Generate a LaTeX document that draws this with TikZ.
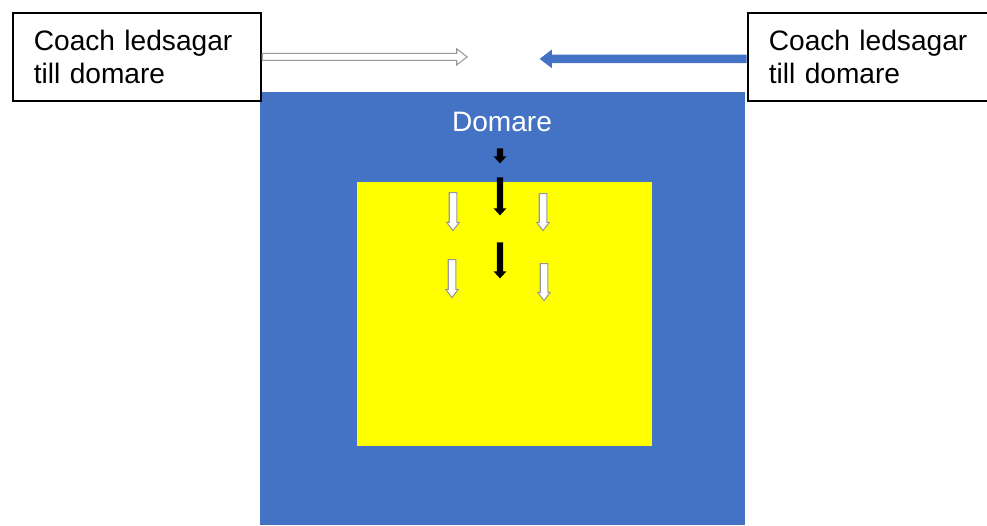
\documentclass[tikz,border=0pt]{standalone}
\usepackage{fontspec}
\setmainfont{Liberation Sans}
\usetikzlibrary{shapes.arrows}
\definecolor{fieldblue}{HTML}{4472C4}
\definecolor{matyellow}{HTML}{FFFF00}
\begin{document}
\begin{tikzpicture}[x=0.02cm,y=-0.02cm]
       \tikzstyle{coachbox}=[draw, fill=white, line width=1pt, minimum width=4.96cm, minimum height=1.76cm, text width=4.12cm, inner xsep=0.42cm, align=left, font=\fontsize{16}{19}\selectfont, anchor=north west]
       \tikzstyle{blockarrow}=[single arrow, single arrow head indent=0pt, single arrow tip angle=75, anchor=tail]
       \tikzstyle{hollowarrow}=[blockarrow, draw=gray!80, fill=white, line width=0.6pt]
       \tikzstyle{down}=[shape border rotate=270]
       \tikzstyle{walkarrow}=[hollowarrow, down, inner sep=0.065cm, single arrow head extend=0.05cm, minimum height=0.76cm]
       \tikzstyle{refarrow}=[blockarrow, down, fill=black, inner sep=0.055cm, single arrow head extend=0.065cm, single arrow tip angle=85]
       \useasboundingbox (0,0) rectangle (987,525);
       \clip (0,0) rectangle (987,525);
       % playing area
       \node[fill=fieldblue, inner sep=0pt, minimum width=9.7cm, minimum height=8.66cm, anchor=north west] (plan) at (260,92) {};
       \node[fill=matyellow, inner sep=0pt, minimum width=5.9cm, minimum height=5.28cm, anchor=north west] (mat) at (357,182) {};
       \node[text=white, font=\fontsize{16}{19}\selectfont] (domare) at (502,122) {Domare};
       % coaches
       \node[coachbox] (lbox) at (12,12) {Coach ledsagar\\till domare};
       \node[coachbox] (rbox) at (747,12) {Coach ledsagar\\till domare};
       \node[hollowarrow, minimum height=4.1cm, inner sep=0.06cm, single arrow head extend=0.09cm] (lwalk) at (lbox.east) {};
       \node[blockarrow, fill=fieldblue, shape border rotate=180, minimum height=4.14cm, inner sep=0.08cm, single arrow head extend=0.1cm] (rwalk) at ([yshift=-0.04cm]rbox.west) {};
       % referee
       \node[refarrow, minimum height=0.3cm] (ref1) at (500,148) {};
       \node[refarrow, minimum height=0.76cm] (ref2) at (500,177) {};
       \node[refarrow, minimum height=0.72cm] (ref3) at (500,242) {};
       % coaches walking
       \node[walkarrow] (wl1) at (453,192) {};
       \node[walkarrow] (wl2) at (452,259) {};
       \node[walkarrow, minimum height=0.74cm] (wr1) at (543,193) {};
       \node[walkarrow, minimum height=0.74cm] (wr2) at (544,263) {};
      \end{tikzpicture}
\end{document}
